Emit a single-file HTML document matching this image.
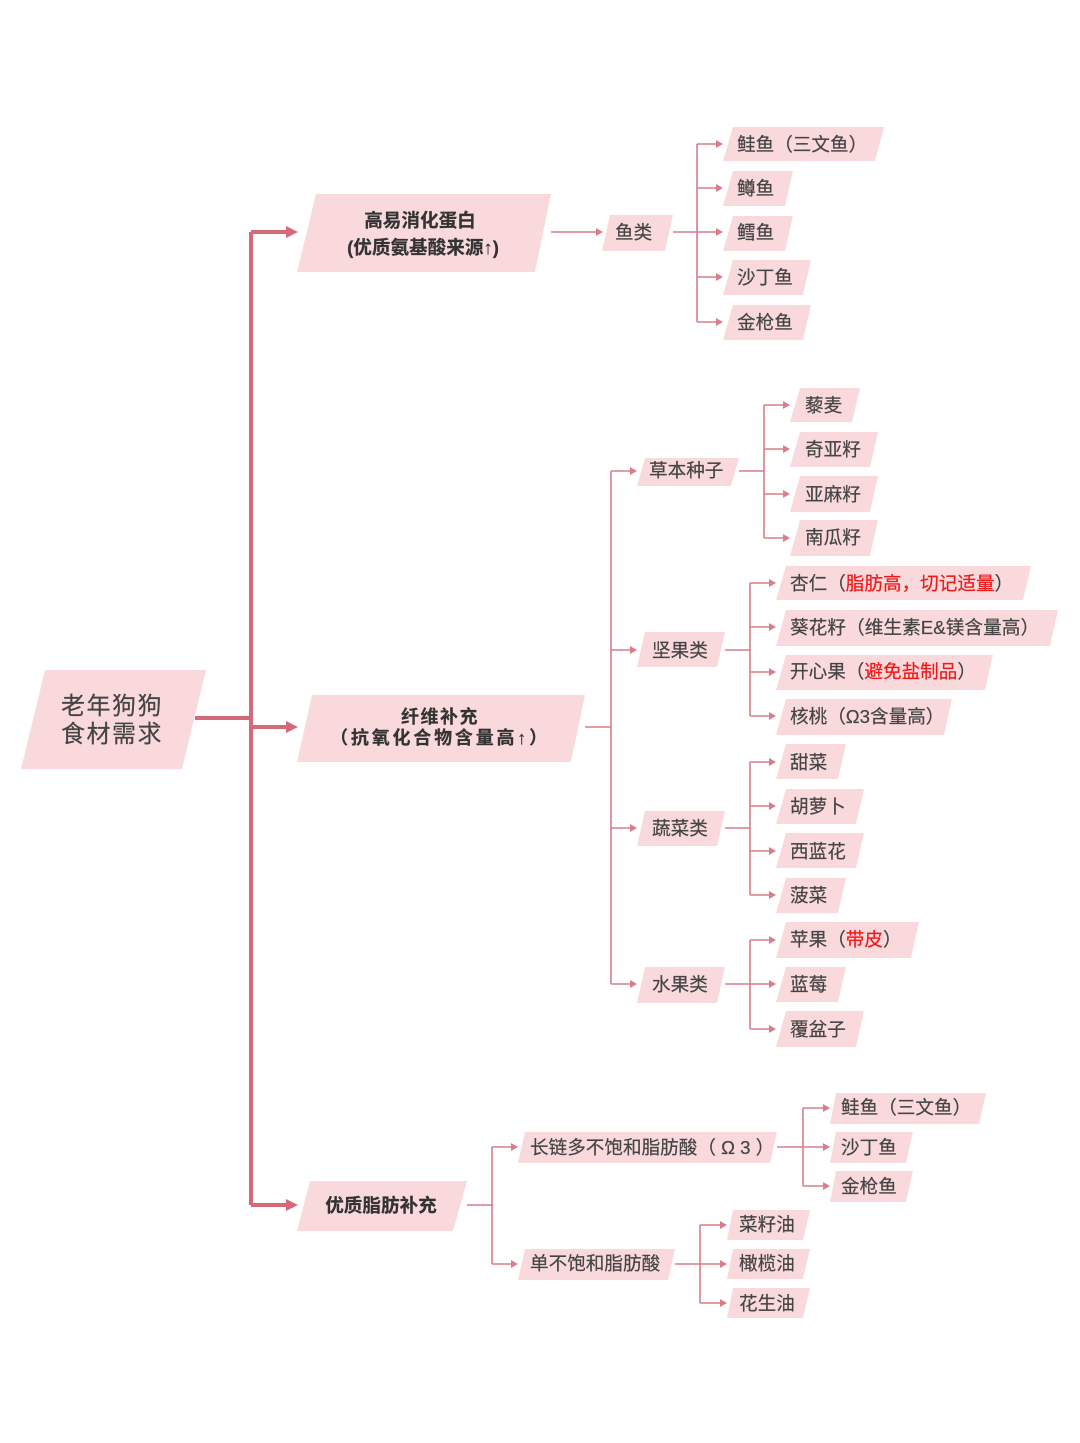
<!DOCTYPE html>
<html lang="zh">
<head>
<meta charset="utf-8">
<title>老年狗狗食材需求</title>
<style>
html,body{margin:0;padding:0;background:#fff}
svg{display:block}
text{font-family:"Liberation Sans","Noto Sans CJK SC",sans-serif;fill:#444;stroke:#444;stroke-width:.2;font-size:18.6px;white-space:pre;filter:blur(.3px)}
.n polygon{fill:#f9d9dc}
.l{fill:none;stroke:#d97d8a;stroke-width:1.6}
.a{fill:#d97d8a}
.m{fill:none;stroke:#d4697a;stroke-width:4}
.ma{fill:#d4697a}
text.b{font-weight:700;font-size:18.6px;fill:#333;stroke:#333}
tspan.r{fill:#f01818;stroke:#f01818}
</style>
</head>
<body>
<svg xmlns="http://www.w3.org/2000/svg" width="1080" height="1443" viewBox="0 0 1080 1443">
<rect width="1080" height="1443" fill="#fff"/>

<!-- main connectors -->
<path class="m" d="M195 718H251M251 232V1205M251 232H288M251 727H288M251 1205H288"/>
<polygon class="ma" points="286,226 298,232 286,238"/>
<polygon class="ma" points="286,721 298,727 286,733"/>
<polygon class="ma" points="286,1199 298,1205 286,1211"/>

<!-- thin connectors -->
<path class="l" d="M551 232H597M673 232H697M697 144V322M697 144H717M697 188H717M697 232H717M697 277H717M697 322H717"/>
<path class="l" d="M585 727H611M611 471V984M611 471H631M611 650H631M611 828H631M611 984H631"/>
<path class="l" d="M739 471H764M764 405V538M764 405H784M764 449H784M764 494H784M764 538H784"/>
<path class="l" d="M725 650H750M750 583V716M750 583H770M750 627H770M750 672H770M750 716H770"/>
<path class="l" d="M725 828H750M750 762V895M750 762H770M750 806H770M750 851H770M750 895H770"/>
<path class="l" d="M725 984H750M750 940V1029M750 940H770M750 984H770M750 1029H770"/>
<path class="l" d="M467 1205H492M492 1147V1264M492 1147H512M492 1264H512"/>
<path class="l" d="M777 1147H803M803 1108V1186M803 1108H824M803 1147H824M803 1186H824"/>
<path class="l" d="M675 1264H700M700 1225V1303M700 1225H721M700 1264H721M700 1303H721"/>

<!-- arrowheads -->
<g class="a">
<polygon points="596,228 603,232 596,236"/>
<polygon points="716,140 723,144 716,148"/><polygon points="716,184 723,188 716,192"/><polygon points="716,228 723,232 716,236"/><polygon points="716,273 723,277 716,281"/><polygon points="716,318 723,322 716,326"/>
<polygon points="630,467 637,471 630,475"/><polygon points="630,646 637,650 630,654"/><polygon points="630,824 637,828 630,832"/><polygon points="630,980 637,984 630,988"/>
<polygon points="783,401 790,405 783,409"/><polygon points="783,445 790,449 783,453"/><polygon points="783,490 790,494 783,498"/><polygon points="783,534 790,538 783,542"/>
<polygon points="769,579 776,583 769,587"/><polygon points="769,623 776,627 769,631"/><polygon points="769,668 776,672 769,676"/><polygon points="769,712 776,716 769,720"/>
<polygon points="769,758 776,762 769,766"/><polygon points="769,802 776,806 769,810"/><polygon points="769,847 776,851 769,855"/><polygon points="769,891 776,895 769,899"/>
<polygon points="769,936 776,940 769,944"/><polygon points="769,980 776,984 769,988"/><polygon points="769,1025 776,1029 769,1033"/>
<polygon points="511,1143 518,1147 511,1151"/><polygon points="511,1260 518,1264 511,1268"/>
<polygon points="823,1104 830,1108 823,1112"/><polygon points="823,1143 830,1147 823,1151"/><polygon points="823,1182 830,1186 823,1190"/>
<polygon points="720,1221 727,1225 720,1229"/><polygon points="720,1260 727,1264 720,1268"/><polygon points="720,1299 727,1303 720,1307"/>
</g>

<!-- nodes -->
<g class="n">
<polygon points="21,769 45,670 206,670 182,769"/>
<polygon points="297,272 316,194 551,194 535,272"/>
<polygon points="297,762 312,695 585,695 571,762"/>
<polygon points="297,1231 310,1181 467,1181 453,1231"/>
<polygon points="602,251 610,215 673,215 665,251"/>
<polygon points="723,161 733,127 884,127 875,161"/>
<polygon points="723,206 733,171 793,171 785,206"/>
<polygon points="723,251 733,216 793,216 785,251"/>
<polygon points="723,295 733,260 811,260 803,295"/>
<polygon points="723,340 733,305 811,305 803,340"/>
<polygon points="637,486 645,458 739,458 731,486"/>
<polygon points="637,667 645,632 725,632 717,667"/>
<polygon points="637,846 645,811 725,811 717,846"/>
<polygon points="637,1003 645,967 725,967 717,1003"/>
<polygon points="790,422 800,388 860,388 852,422"/>
<polygon points="790,467 800,432 878,432 870,467"/>
<polygon points="790,512 800,476 878,476 870,512"/>
<polygon points="790,556 800,520 878,520 870,556"/>
<polygon points="776,600 786,566 1031,566 1023,600"/>
<polygon points="776,646 786,610 1058,610 1050,646"/>
<polygon points="776,690 786,655 993,655 985,690"/>
<polygon points="776,735 786,699 952,699 944,735"/>
<polygon points="776,779 786,744 846,744 838,779"/>
<polygon points="776,824 786,789 864,789 856,824"/>
<polygon points="776,868 786,833 864,833 856,868"/>
<polygon points="776,913 786,878 846,878 838,913"/>
<polygon points="776,958 786,922 919,922 911,958"/>
<polygon points="776,1002 786,967 846,967 838,1002"/>
<polygon points="776,1047 786,1011 864,1011 856,1047"/>
<polygon points="518,1163 525,1132 777,1132 770,1163"/>
<polygon points="518,1280 525,1249 675,1249 668,1280"/>
<polygon points="830,1124 836,1093 986,1093 979,1124"/>
<polygon points="830,1163 836,1132 913,1132 906,1163"/>
<polygon points="830,1202 836,1171 913,1171 906,1202"/>
<polygon points="727,1240 733,1210 810,1210 803,1240"/>
<polygon points="727,1279 733,1249 810,1249 803,1279"/>
<polygon points="727,1318 733,1288 810,1288 803,1318"/>
</g>

<!-- labels -->
<text x="61" y="714" style="font-size:24px;letter-spacing:1.5px">老年狗狗</text>
<text x="61" y="742" style="font-size:24px;letter-spacing:1.5px">食材需求</text>

<text class="b" x="420" y="227" text-anchor="middle">高易消化蛋白</text>
<text class="b" x="423" y="254" text-anchor="middle">(优质氨基酸来源↑)</text>
<text class="b" x="440" y="723" text-anchor="middle" style="font-size:18px;letter-spacing:1.5px">纤维补充</text>
<text class="b" x="440" y="744" text-anchor="middle" style="font-size:18px;letter-spacing:2.8px">（抗氧化合物含量高↑）</text>
<text class="b" x="381" y="1212" text-anchor="middle">优质脂肪补充</text>

<text x="615" y="239">鱼类</text>
<text x="737" y="151">鲑鱼（三文鱼）</text>
<text x="737" y="195">鳟鱼</text>
<text x="737" y="239">鳕鱼</text>
<text x="737" y="284">沙丁鱼</text>
<text x="737" y="329">金枪鱼</text>

<text x="649" y="477">草本种子</text>
<text x="652" y="657">坚果类</text>
<text x="652" y="835">蔬菜类</text>
<text x="652" y="991">水果类</text>

<text x="805" y="412">藜麦</text>
<text x="805" y="456">奇亚籽</text>
<text x="805" y="501">亚麻籽</text>
<text x="805" y="544">南瓜籽</text>

<text x="790" y="590">杏仁（<tspan class="r">脂肪高，切记适量</tspan>）</text>
<text x="790" y="634" style="font-size:18.7px">葵花籽（维生素E&amp;镁含量高）</text>
<text x="790" y="678">开心果（<tspan class="r">避免盐制品</tspan>）</text>
<text x="790" y="723">核桃（Ω3含量高）</text>

<text x="790" y="769">甜菜</text>
<text x="790" y="813">胡萝卜</text>
<text x="790" y="858">西蓝花</text>
<text x="790" y="902">菠菜</text>

<text x="790" y="946">苹果（<tspan class="r">带皮</tspan>）</text>
<text x="790" y="991">蓝莓</text>
<text x="790" y="1036">覆盆子</text>

<text x="530" y="1154">长链多不饱和脂肪酸（ Ω 3 ）</text>
<text x="530" y="1270">单不饱和脂肪酸</text>
<text x="841" y="1114">鲑鱼（三文鱼）</text>
<text x="841" y="1154">沙丁鱼</text>
<text x="841" y="1193">金枪鱼</text>
<text x="739" y="1231">菜籽油</text>
<text x="739" y="1270">橄榄油</text>
<text x="739" y="1310">花生油</text>
</svg>
</body>
</html>
